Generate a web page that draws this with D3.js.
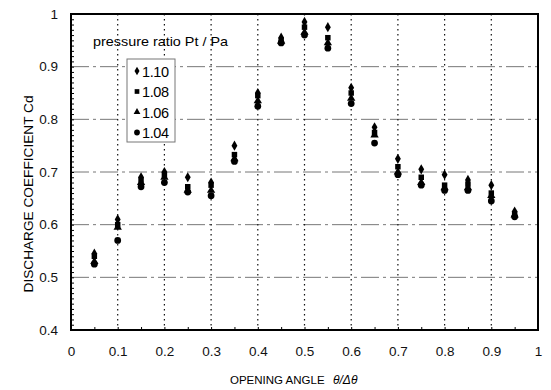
<!DOCTYPE html>
<html>
<head>
<meta charset="utf-8">
<script src="https://cdn.jsdelivr.net/npm/d3@7"></script>
<style>
  body { margin: 0; background: #fff; }
  svg { font-family: "Liberation Sans", Arial, sans-serif; }
</style>
</head>
<body>
<div id="chart"></div>
<script>
// opening angle positions
const angles = [0.05, 0.1, 0.15, 0.2, 0.25, 0.3, 0.35, 0.4, 0.45, 0.5, 0.55, 0.6, 0.65, 0.7, 0.75, 0.8, 0.85, 0.9, 0.95];

// discharge coefficient per pressure ratio
const cd110 = [0.545, 0.61, 0.69, 0.70, 0.69, 0.68, 0.75, 0.85, 0.955, 0.985, 0.975, 0.86, 0.785, 0.725, 0.705, 0.695, 0.685, 0.675, 0.625];
const cd108 = [0.54, 0.60, 0.685, 0.695, 0.672, 0.675, 0.733, 0.845, 0.95, 0.975, 0.955, 0.85, 0.775, 0.71, 0.69, 0.675, 0.677, 0.66, 0.62];
const cd106 = [0.53, 0.595, 0.68, 0.69, 0.665, 0.665, 0.725, 0.835, 0.948, 0.965, 0.945, 0.84, 0.77, 0.70, 0.68, 0.67, 0.67, 0.655, 0.618];
const cd104 = [0.525, 0.57, 0.672, 0.68, 0.662, 0.655, 0.72, 0.825, 0.945, 0.96, 0.935, 0.83, 0.755, 0.695, 0.675, 0.665, 0.665, 0.645, 0.615];

const seriesNames = ['1.10', '1.08', '1.06', '1.04'];
const xTicks = [0, 0.1, 0.2, 0.3, 0.4, 0.5, 0.6, 0.7, 0.8, 0.9, 1];
const yTicks = [0.4, 0.5, 0.6, 0.7, 0.8, 0.9, 1];

const W = 551, H = 390;
const margin = { top: 14, right: 13, bottom: 60, left: 71 };
const width = W - margin.left - margin.right;
const height = H - margin.top - margin.bottom;

const svg = d3.select('#chart').append('svg')
  .attr('width', W)
  .attr('height', H);

const chart = svg.append('g')
  .attr('transform', `translate(${margin.left}, ${margin.top})`);

const x = d3.scaleLinear().domain([0, 1]).range([0, width]);
const y = d3.scaleLinear().domain([0.4, 1]).range([height, 0]);

// horizontal grid (dash-dot, gray)
chart.append('g')
  .selectAll('line')
  .data(yTicks.filter(t => t > 0.4 && t < 1))
  .enter().append('line')
  .attr('x1', 0).attr('x2', width)
  .attr('y1', d => y(d)).attr('y2', d => y(d))
  .attr('stroke', '#777')
  .attr('stroke-width', 1)
  .attr('stroke-dasharray', '18,4,3,4');

// vertical grid (dotted, black)
chart.append('g')
  .selectAll('line')
  .data(xTicks.filter(t => t > 0 && t < 1))
  .enter().append('line')
  .attr('x1', d => x(d)).attr('x2', d => x(d))
  .attr('y1', 0).attr('y2', height)
  .attr('stroke', '#111')
  .attr('stroke-width', 1.2)
  .attr('stroke-dasharray', '1.5,3.5');

// axes
const xAxis = chart.append('g')
  .attr('transform', `translate(0, ${height})`)
  .call(d3.axisBottom(x).tickValues(xTicks).tickSize(0).tickPadding(16)
    .tickFormat(d => d3.format('')(+d.toFixed(1))));
const yAxis = chart.append('g')
  .call(d3.axisLeft(y).tickValues(yTicks).tickSize(0).tickPadding(13)
    .tickFormat(d => d3.format('')(+d.toFixed(1))));
[xAxis, yAxis].forEach(a => {
  a.select('.domain').remove();
  a.selectAll('text').attr('font-size', 13.5).attr('fill', '#111')
    .attr('font-family', '"Liberation Sans", Arial, sans-serif');
});

// minor inward ticks
chart.append('g').attr('transform', `translate(0, ${height})`)
  .call(d3.axisTop(x).tickValues(d3.range(1, 20).map(i => i * 0.05)).tickSize(3).tickFormat(''))
  .call(g => g.select('.domain').remove());
chart.append('g')
  .call(d3.axisRight(y).tickValues(d3.range(41, 100).map(i => i / 100)).tickSize(3).tickFormat(''))
  .call(g => g.select('.domain').remove());

// frame
chart.append('rect')
  .attr('width', width).attr('height', height)
  .attr('fill', 'none').attr('stroke', '#000').attr('stroke-width', 2);

// markers
const symbols = [
  d3.symbol().type(d3.symbolDiamond).size(30),
  d3.symbol().type(d3.symbolSquare).size(30),
  d3.symbol().type(d3.symbolTriangle).size(30),
  d3.symbol().type(d3.symbolCircle).size(36)
];
const series = [cd110, cd108, cd106, cd104];

series.forEach((vals, s) => {
  chart.append('g')
    .selectAll('path')
    .data(angles.map((a, i) => ({ a, v: vals[i] })))
    .enter().append('path')
    .attr('d', symbols[s])
    .attr('transform', d => `translate(${x(d.a)}, ${y(d.v)})`)
    .attr('fill', '#000');
});

// legend
const legend = chart.append('g');
legend.append('text')
  .attr('x', 22).attr('y', 32)
  .attr('font-size', 13)
  .attr('textLength', 135).attr('lengthAdjust', 'spacingAndGlyphs')
  .text('pressure ratio Pt / Pa');
legend.append('rect')
  .attr('x', 56).attr('y', 45).attr('width', 48).attr('height', 83)
  .attr('fill', '#fff').attr('stroke', '#777').attr('stroke-width', 1);
const legendSymbols = [
  d3.symbol().type(d3.symbolDiamond).size(22),
  d3.symbol().type(d3.symbolSquare).size(22),
  d3.symbol().type(d3.symbolTriangle).size(20),
  d3.symbol().type(d3.symbolCircle).size(26)
];
seriesNames.forEach((name, i) => {
  const ly = 57 + i * 20.5;
  legend.append('path')
    .attr('d', legendSymbols[i])
    .attr('transform', `translate(66, ${ly})`)
    .attr('fill', '#000');
  legend.append('text')
    .attr('x', 71).attr('y', ly + 5.5)
    .attr('font-size', 14.5).attr('letter-spacing', -0.4)
    .text(name);
});

// axis titles
svg.append('text')
  .attr('x', 230).attr('y', 384)
  .attr('font-size', 11.5)
  .text('OPENING ANGLE');
svg.append('text')
  .attr('x', 333).attr('y', 384)
  .attr('font-size', 12)
  .attr('font-style', 'italic')
  .text('θ/Δθ');

svg.append('text')
  .attr('transform', `translate(33, 194) rotate(-90)`)
  .attr('text-anchor', 'middle')
  .attr('font-size', 13.5)
  .attr('textLength', 197).attr('lengthAdjust', 'spacingAndGlyphs')
  .text('DISCHARGE COEFFICIENT Cd');
</script>
</body>
</html>
